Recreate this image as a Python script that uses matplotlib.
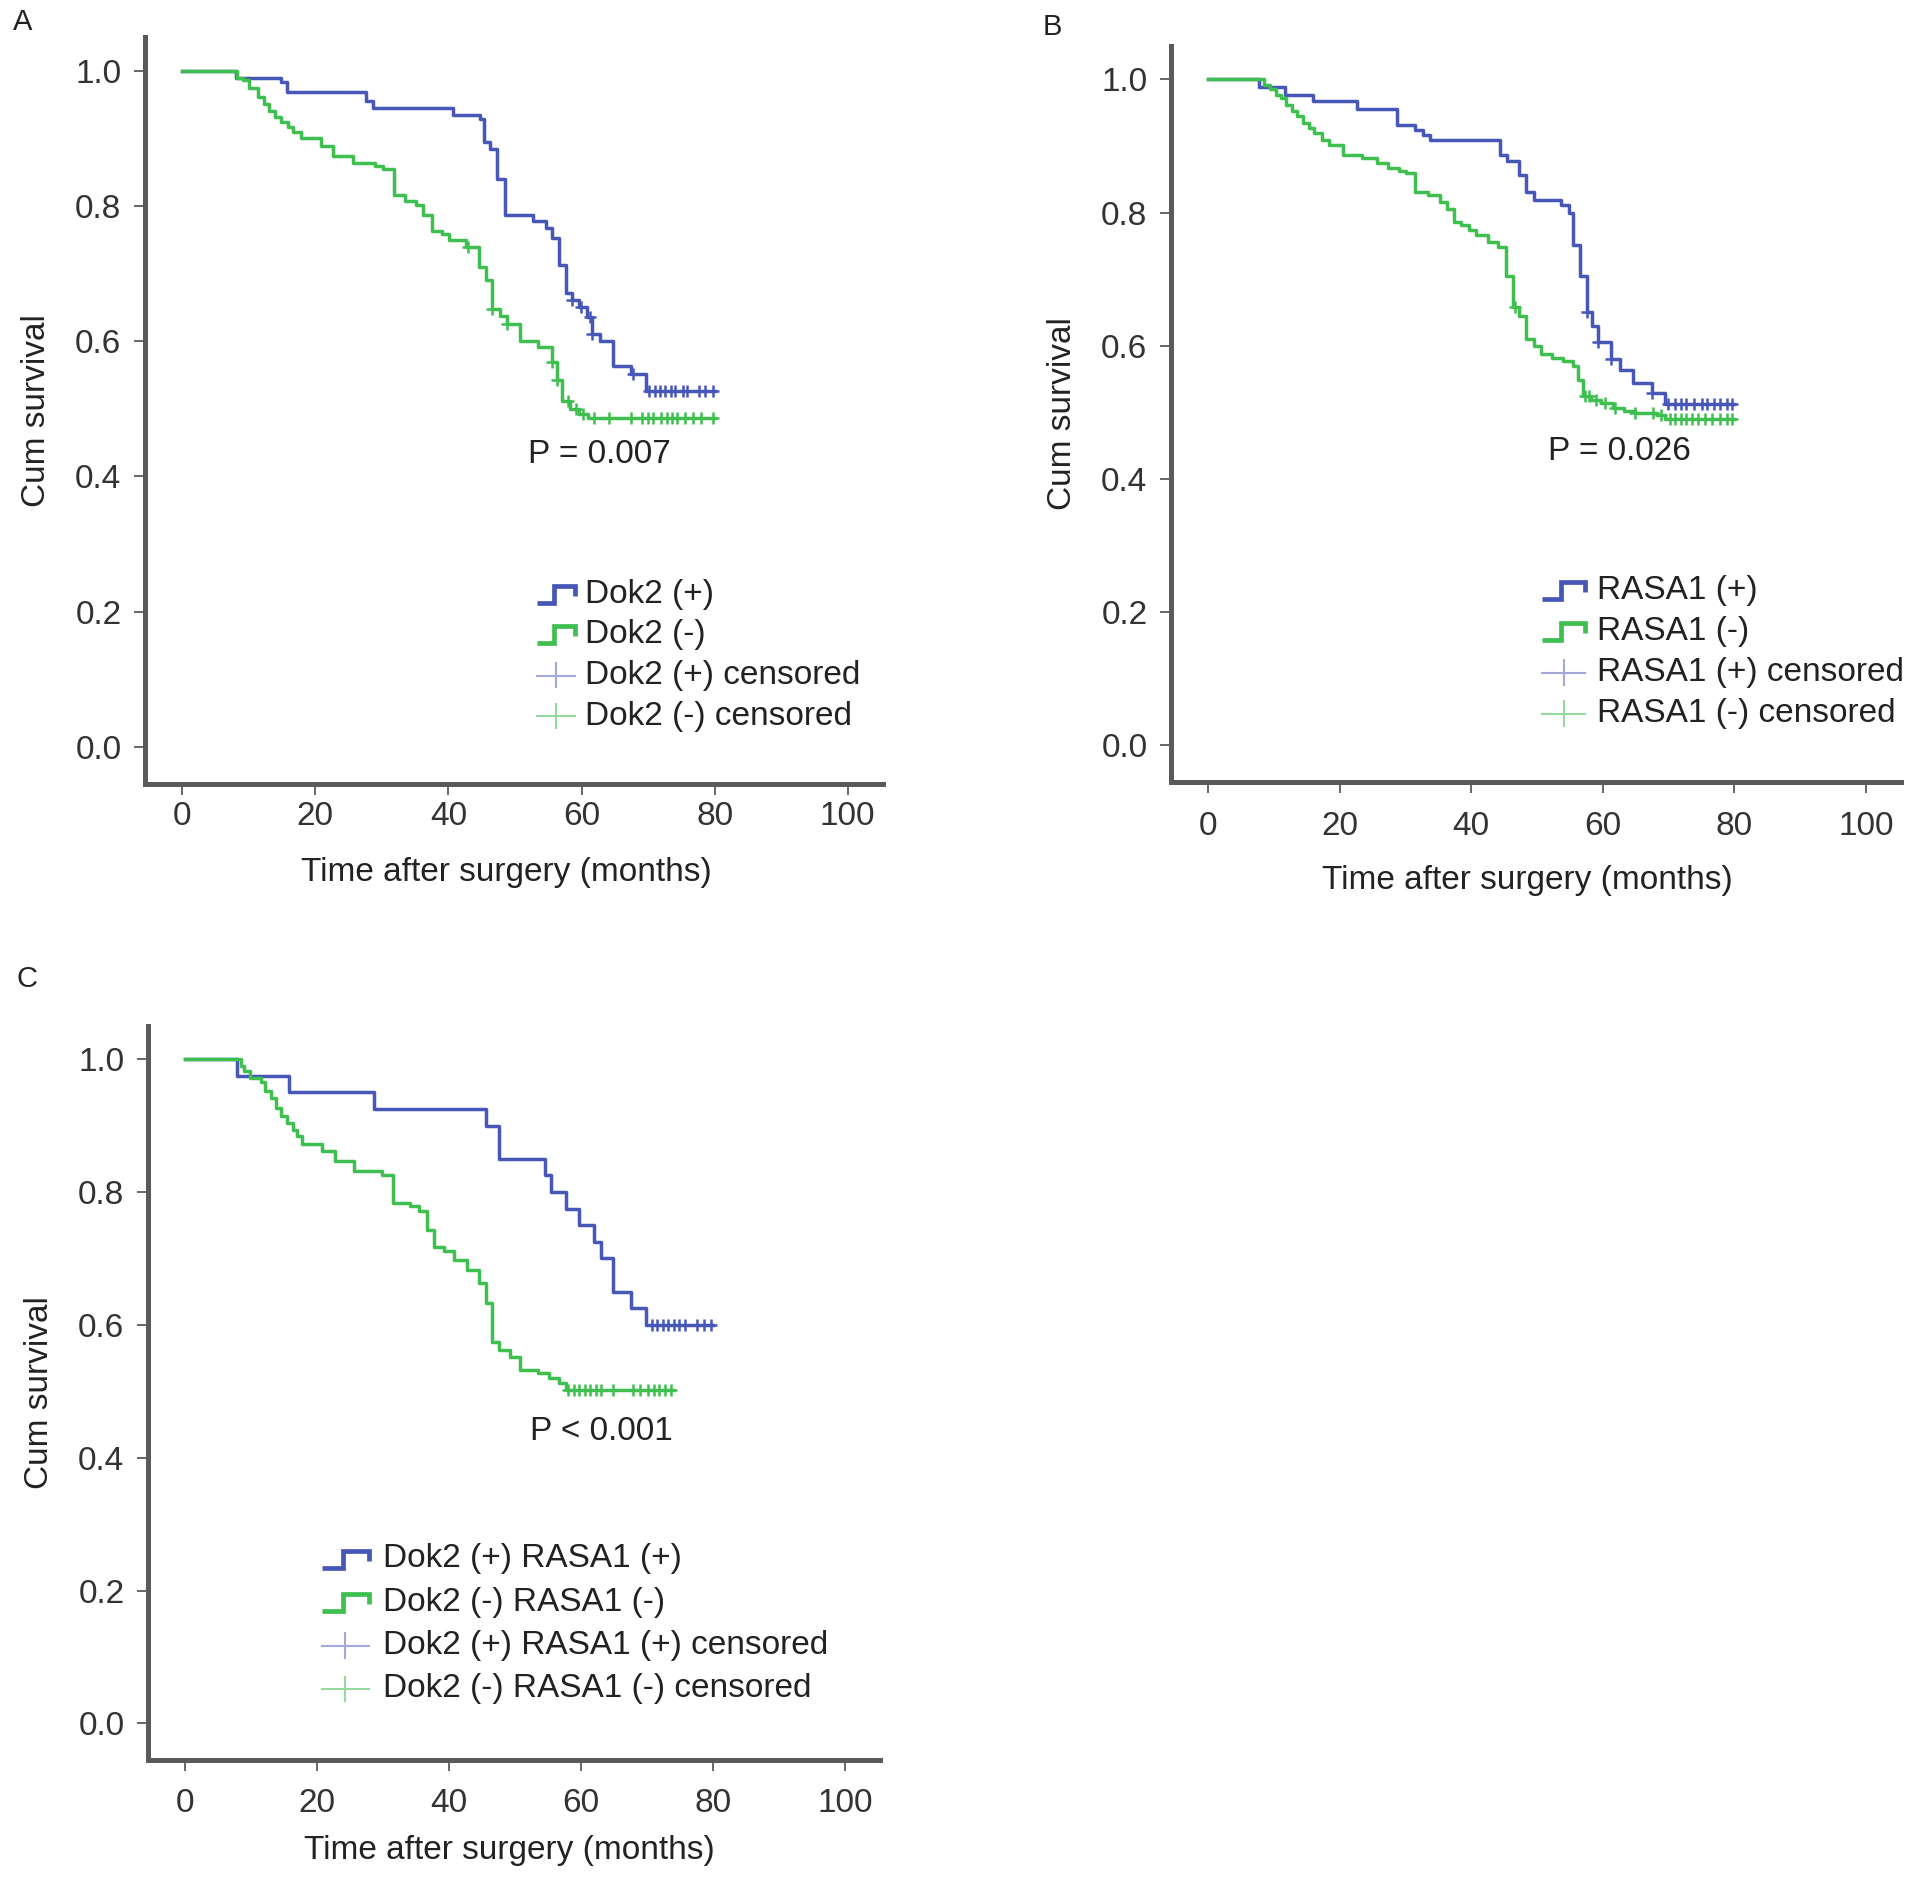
import numpy as np
import matplotlib
matplotlib.use("Agg")
import matplotlib.pyplot as plt
from matplotlib.lines import Line2D
from matplotlib.legend_handler import HandlerBase

plt.rcParams['font.family'] = ['Liberation Sans', 'DejaVu Sans']

# ---------------- data ----------------
# Panel A : Dok2
A_pos_t = [0, 8.0, 14.8, 15.7, 27.6, 28.7, 40.7, 44.8, 45.4, 46.2, 47.3, 48.5, 52.7, 54.6,
           55.5, 56.6, 57.7, 58.5, 59.6, 60.8, 61.6, 62.7, 64.7, 67.4, 69.7, 80]
A_pos_s = [1.0, 0.99, 0.984, 0.969, 0.956, 0.945, 0.935, 0.928, 0.895, 0.884, 0.84, 0.787, 0.778,
           0.768, 0.753, 0.713, 0.671, 0.661, 0.651, 0.636, 0.611, 0.601, 0.564, 0.552, 0.526, 0.526]
A_pos_cens = [58.6, 59.9, 61.3, 61.6, 67.7, 70.2, 71.0, 71.8, 72.6, 73.5, 74.1, 75.2, 75.8,
              77.7, 78.6, 79.8]

A_neg_t = [0, 8.2, 9.2, 10.0, 11.4, 12.3, 13.1, 13.9, 14.8, 15.9, 16.7, 17.8, 20.9, 22.6, 25.6,
           29.0, 30.1, 31.8, 33.4, 35.1, 36.2, 37.6, 39.0, 40.1, 42.6, 44.6, 45.7, 46.5, 47.7,
           48.8, 50.7, 53.5, 55.5, 56.3, 57.1, 58.2, 59.6, 61.0, 80]
A_neg_s = [1.0, 0.99, 0.986, 0.975, 0.961, 0.951, 0.941, 0.931, 0.925, 0.917, 0.909, 0.9, 0.889,
           0.874, 0.863, 0.859, 0.854, 0.817, 0.807, 0.802, 0.787, 0.763, 0.758, 0.75, 0.74, 0.71,
           0.69, 0.648, 0.638, 0.626, 0.601, 0.591, 0.569, 0.542, 0.512, 0.5, 0.492, 0.487, 0.487]
A_neg_cens = [43.0, 46.5, 48.8, 55.5, 56.3, 58.0, 59.1, 60.2, 61.9, 64.1, 67.4, 69.1, 70.0, 70.8,
              71.9, 72.8, 73.6, 74.4, 75.5, 76.7, 78.0, 79.7]

# Panel B : RASA1
B_pos_t = [0, 7.8, 11.7, 15.9, 22.7, 28.7, 31.5, 32.7, 33.8, 44.4, 45.5, 47.2, 48.3, 49.5, 53.7,
           54.8, 55.5, 56.5, 57.6, 58.4, 59.3, 61.2, 62.6, 64.6, 67.4, 69.4, 80]
B_pos_s = [1.0, 0.988, 0.977, 0.967, 0.955, 0.932, 0.924, 0.917, 0.909, 0.887, 0.877, 0.856, 0.831,
           0.819, 0.811, 0.799, 0.751, 0.705, 0.65, 0.63, 0.605, 0.58, 0.564, 0.544, 0.529, 0.513,
           0.513]
B_pos_cens = [57.6, 59.3, 61.2, 67.4, 69.9, 71.0, 71.9, 72.7, 73.8, 75.0, 75.8, 76.9, 77.8, 78.9,
              79.7]

B_neg_t = [0, 8.6, 9.4, 10.3, 11.1, 11.9, 12.8, 13.6, 14.5, 15.3, 16.1, 17.3, 18.4, 20.6, 23.4,
           25.7, 27.3, 29.0, 30.1, 31.5, 33.5, 35.2, 36.3, 37.4, 38.5, 39.7, 40.8, 42.5, 44.1,
           45.3, 46.4, 47.2, 48.3, 49.5, 50.6, 52.3, 53.9, 55.4, 56.2, 57.0, 58.2, 59.8, 61.5,
           63.2, 64.9, 68.2, 69.4, 80]
B_neg_s = [1.0, 0.992, 0.985, 0.977, 0.972, 0.962, 0.952, 0.945, 0.935, 0.927, 0.919, 0.909, 0.902,
           0.887, 0.882, 0.874, 0.867, 0.863, 0.859, 0.831, 0.826, 0.816, 0.806, 0.786, 0.781,
           0.773, 0.766, 0.756, 0.748, 0.705, 0.658, 0.645, 0.61, 0.6, 0.587, 0.582, 0.577, 0.569,
           0.549, 0.524, 0.519, 0.514, 0.507, 0.502, 0.499, 0.496, 0.49, 0.49]
B_neg_cens = [46.7, 57.3, 57.9, 59.0, 60.4, 61.8, 64.9, 67.7, 68.8, 70.2, 71.0, 71.9, 72.7, 73.6,
              74.4, 75.5, 76.6, 77.8, 78.9, 79.7]

# Panel C : Dok2/RASA1 combined
C_pos_t = [0, 7.9, 15.8, 28.7, 45.6, 47.6, 54.6, 55.5, 57.7, 59.7, 62.0, 63.1, 64.8, 67.6, 69.9, 80]
C_pos_s = [1.0, 0.975, 0.95, 0.925, 0.9, 0.85, 0.825, 0.8, 0.775, 0.75, 0.725, 0.7, 0.65, 0.625,
           0.6, 0.6]
C_pos_cens = [70.7, 71.5, 72.4, 73.2, 74.1, 74.9, 75.8, 77.5, 78.6, 79.7]

C_neg_t = [0, 8.5, 9.0, 9.9, 11.5, 12.1, 13.0, 13.8, 14.6, 15.5, 16.3, 17.0, 17.7, 20.8, 22.8,
           25.6, 29.9, 31.5, 34.1, 35.5, 36.6, 37.7, 39.2, 40.8, 42.8, 44.5, 45.6, 46.5, 47.6,
           49.3, 50.7, 53.5, 55.2, 56.6, 57.7, 74]
C_neg_s = [1.0, 0.99, 0.982, 0.972, 0.965, 0.952, 0.942, 0.927, 0.914, 0.904, 0.894, 0.884, 0.872,
           0.862, 0.847, 0.831, 0.826, 0.784, 0.779, 0.771, 0.743, 0.718, 0.711, 0.698, 0.683,
           0.663, 0.633, 0.575, 0.562, 0.552, 0.532, 0.527, 0.52, 0.512, 0.502, 0.502]
C_neg_cens = [58.0, 58.9, 59.7, 60.6, 61.4, 62.3, 63.1, 64.8, 67.9, 69.0, 70.1, 71.0, 71.8, 72.7,
              73.6]

labels_A = ["Dok2 (+)", "Dok2 (-)", "Dok2 (+) censored", "Dok2 (-) censored"]
labels_B = ["RASA1 (+)", "RASA1 (-)", "RASA1 (+) censored", "RASA1 (-) censored"]
labels_C = ["Dok2 (+) RASA1 (+)", "Dok2 (-) RASA1 (-)",
            "Dok2 (+) RASA1 (+) censored", "Dok2 (-) RASA1 (-) censored"]
pvals = ["P = 0.007", "P = 0.026", "P < 0.001"]
x_ticks = [0, 20, 40, 60, 80, 100]
y_ticks = [0.0, 0.2, 0.4, 0.6, 0.8, 1.0]

# ---------------- style ----------------
BLUE = '#4657b8'
GREEN = '#3fbf4f'
BLUE_C = '#a3a8d8'
GREEN_C = '#96d99f'
SPINE = '#5a5a5a'
TXT = '#222222'
W, H = 1913, 1879
FS = 24

fig = plt.figure(figsize=(W / 100, H / 100), dpi=100)


def ax_px(l, t, r, b):
    return fig.add_axes([l / W, 1 - b / H, (r - l) / W, (b - t) / H])


class StepHandler(HandlerBase):
    def __init__(self, color):
        super().__init__()
        self.color = color

    def create_artists(self, legend, orig_handle, xdescent, ydescent, width, height, fontsize, trans):
        xs = np.array([0.0, 0.45, 0.45, 1.0, 1.0]) * width - xdescent
        ys = np.array([0.0, 0.0, 0.72, 0.72, 0.3]) * height - ydescent
        ln = Line2D(xs, ys, color=self.color, lw=3.4, solid_joinstyle='miter', solid_capstyle='butt')
        ln.set_transform(trans)
        return [ln]


class CensHandler(HandlerBase):
    def __init__(self, color):
        super().__init__()
        self.color = color

    def create_artists(self, legend, orig_handle, xdescent, ydescent, width, height, fontsize, trans):
        h = Line2D([-xdescent, width - xdescent], [0.35 * height - ydescent] * 2,
                   color=self.color, lw=1.5)
        v = Line2D([0.5 * width - xdescent] * 2, [-0.15 * height - ydescent, 0.9 * height - ydescent],
                   color=self.color, lw=1.5)
        h.set_transform(trans)
        v.set_transform(trans)
        return [h, v]


def step_val(t, s, x):
    t = np.asarray(t)
    s = np.asarray(s)
    idx = np.searchsorted(t, np.asarray(x), side='right') - 1
    return s[idx]


def panel(ax, pos_t, pos_s, pos_c, neg_t, neg_s, neg_c, labels, ptxt, ppos,
          leg_xy, leg_sp, hlen, hpad, xpad, lpad, xlab_x):
    ax.step(pos_t, pos_s, where='post', color=BLUE, lw=2.5)
    ax.plot(pos_c, step_val(pos_t, pos_s, pos_c), ls='none', marker='+', ms=9, mew=1.8, color=BLUE)
    ax.step(neg_t, neg_s, where='post', color=GREEN, lw=2.5)
    ax.plot(neg_c, step_val(neg_t, neg_s, neg_c), ls='none', marker='+', ms=9, mew=1.8, color=GREEN)

    ax.set_xlim(-5.6, 105.3)
    ax.set_ylim(-0.055, 1.05)
    ax.set_xticks(x_ticks)
    ax.set_yticks(y_ticks)
    ax.set_yticklabels([f"{v:.1f}" for v in y_ticks])
    for sp in ['top', 'right']:
        ax.spines[sp].set_visible(False)
    for sp in ['left', 'bottom']:
        ax.spines[sp].set_color(SPINE)
        ax.spines[sp].set_linewidth(3.6)
    ax.tick_params(axis='both', direction='out', length=8, width=1.3, color=SPINE,
                   labelsize=FS, labelcolor='#333333')
    ax.tick_params(axis='y', pad=9)
    ax.tick_params(axis='x', pad=xpad)
    ax.set_xlabel("Time after surgery (months)", fontsize=FS, color=TXT, labelpad=lpad)
    ax.xaxis.label.set_x(xlab_x)
    ax.set_ylabel("Cum survival", fontsize=FS, color=TXT, labelpad=17)
    ax.text(ppos[0], ppos[1], ptxt, fontsize=FS, color=TXT, ha='left', va='center')

    h1 = Line2D([], [])
    h2 = Line2D([], [])
    h3 = Line2D([], [])
    h4 = Line2D([], [])
    ax.legend([h1, h2, h3, h4], labels, loc='center left',
              bbox_to_anchor=(leg_xy[0] / W, 1 - leg_xy[1] / H), bbox_transform=fig.transFigure,
              frameon=False, fontsize=FS, handlelength=hlen, handletextpad=hpad,
              labelspacing=leg_sp, borderpad=0, borderaxespad=0,
              handler_map={h1: StepHandler(BLUE), h2: StepHandler(GREEN),
                           h3: CensHandler(BLUE_C), h4: CensHandler(GREEN_C)},
              labelcolor=TXT)


axA = ax_px(145, 37, 883, 784)
panel(axA, A_pos_t, A_pos_s, A_pos_cens, A_neg_t, A_neg_s, A_neg_cens, labels_A,
      pvals[0], (52.0, 0.433), (537, 655), 0.29, 1.14, 0.29, 4.5, 17.5, 0.489)

axB = ax_px(1171, 46, 1901, 782)
panel(axB, B_pos_t, B_pos_s, B_pos_cens, B_neg_t, B_neg_s, B_neg_cens, labels_B,
      pvals[1], (51.6, 0.441), (1542, 652), 0.30, 1.29, 0.37, 13, 16.5, 0.488)

axC = ax_px(148, 1026, 880, 1760)
panel(axC, C_pos_t, C_pos_s, C_pos_cens, C_neg_t, C_neg_s, C_neg_cens, labels_C,
      pvals[2], (52.3, 0.44), (322, 1624), 0.37, 1.4, 0.44, 12, 11.5, 0.493)

fig.text(13 / W, 1 - 22 / H, "A", fontsize=21, color=TXT, ha='left', va='center')
fig.text(1043 / W, 1 - 27 / H, "B", fontsize=21, color=TXT, ha='left', va='center')
fig.text(16 / W, 1 - 979 / H, "C", fontsize=21, color=TXT, ha='left', va='center')

fig.savefig("out.png", dpi=100, facecolor='white')
